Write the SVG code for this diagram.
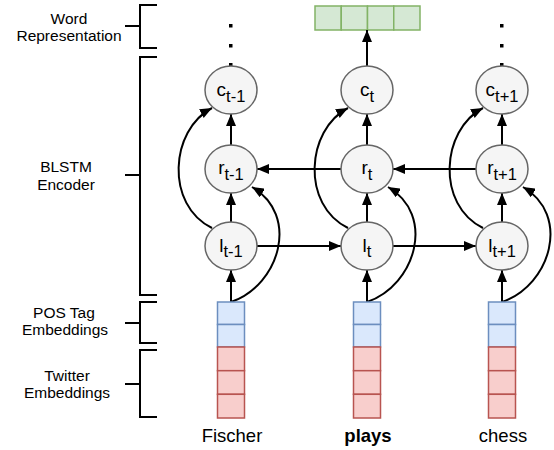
<svg xmlns="http://www.w3.org/2000/svg" width="554" height="450" viewBox="0 0 554 450">
<defs>
<style>
.lbl{font-family:"Liberation Sans",Arial,sans-serif;font-size:15.5px;fill:#000;text-anchor:middle}
.word{font-family:"Liberation Sans",Arial,sans-serif;font-size:18.5px;fill:#000;text-anchor:middle}
.node ellipse{fill:#f5f5f5;stroke:#666;stroke-width:1.5}
.nt{font-family:"Liberation Sans",Arial,sans-serif;font-size:19px;fill:#000;text-anchor:middle}
.sub{font-size:16.5px}
.br{fill:none;stroke:#000;stroke-width:2}
.conn path{fill:none;stroke:#000;stroke-width:2}
.blue{fill:#dae8fc;stroke:#6c8ebf;stroke-width:1.5}
.red{fill:#f8cecc;stroke:#b85450;stroke-width:1.5}
.green{fill:#d5e8d4;stroke:#82b366;stroke-width:1.5}
</style>
<marker id="ah" viewBox="0 0 12 10" refX="12" refY="5" markerWidth="12" markerHeight="10" markerUnits="userSpaceOnUse" orient="auto">
<path d="M0,0 L12,5 L0,10 z" fill="#000"/>
</marker>
</defs>
<rect width="554" height="450" fill="#fff"/>

<g id="word-rep-label">
<path class="br" d="M157 5 H140 V48 H157 M125 26 H140"/>
<text class="lbl" x="69" y="24">Word</text>
<text class="lbl" x="69" y="41">Representation</text>
</g>
<g id="blstm-label">
<path class="br" d="M157 57 H140 V295 H157 M125 175 H140"/>
<text class="lbl" x="66" y="172">BLSTM</text>
<text class="lbl" x="66" y="190">Encoder</text>
</g>
<g id="pos-label">
<path class="br" d="M157 302 H140 V343 H157 M125 323 H140"/>
<text class="lbl" x="64" y="318">POS Tag</text>
<text class="lbl" x="65" y="335">Embeddings</text>
</g>
<g id="twitter-label">
<path class="br" d="M157 350 H140 V417 H157 M125 384 H140"/>
<text class="lbl" x="67" y="381">Twitter</text>
<text class="lbl" x="67" y="398">Embeddings</text>
</g>

<g id="dots-left" fill="#000">
<rect x="229" y="24" width="3.5" height="3.5"/>
<rect x="229" y="44" width="3.5" height="3.5"/>
<rect x="229" y="63" width="3.5" height="3.5"/>
</g>
<g id="dots-right" fill="#000">
<rect x="500" y="24" width="3.5" height="3.5"/>
<rect x="500" y="44" width="3.5" height="3.5"/>
<rect x="500" y="63" width="3.5" height="3.5"/>
</g>

<g id="word-vector">
<rect class="green" x="315" y="6" width="26.25" height="24"/>
<rect class="green" x="341.25" y="6" width="26.25" height="24"/>
<rect class="green" x="367.5" y="6" width="26.25" height="24"/>
<rect class="green" x="393.75" y="6" width="26.25" height="24"/>
</g>

<g id="connectors" class="conn">
<path d="M367 66 V30" marker-end="url(#ah)"/>
<path d="M231 302 V270" marker-end="url(#ah)"/>
<path d="M231 222 V193" marker-end="url(#ah)"/>
<path d="M231 145 V114" marker-end="url(#ah)"/>
<path d="M367 302 V270" marker-end="url(#ah)"/>
<path d="M367 222 V193" marker-end="url(#ah)"/>
<path d="M367 145 V114" marker-end="url(#ah)"/>
<path d="M502 302 V270" marker-end="url(#ah)"/>
<path d="M502 222 V193" marker-end="url(#ah)"/>
<path d="M502 145 V114" marker-end="url(#ah)"/>
<path d="M257 246 H341" marker-end="url(#ah)"/>
<path d="M393 246 H476" marker-end="url(#ah)"/>
<path d="M341 169 H257" marker-end="url(#ah)"/>
<path d="M476 169 H393" marker-end="url(#ah)"/>
<path d="M212 228 C165 205,170 130,212 108" marker-end="url(#ah)"/>
<path d="M348 228 C301 205,306 130,348 108" marker-end="url(#ah)"/>
<path d="M483 228 C436 205,441 130,483 108" marker-end="url(#ah)"/>
<path d="M231 302 C280 285,300 215,252 187" marker-end="url(#ah)"/>
<path d="M367 302 C416 285,436 215,388 187" marker-end="url(#ah)"/>
<path d="M502 302 C551 285,571 215,523 187" marker-end="url(#ah)"/>
</g>

<g id="c-tm1" class="node"><ellipse cx="231" cy="90" rx="26" ry="24"/><text class="nt" x="231" y="96">c<tspan class="sub" dy="6">t-1</tspan></text></g>
<g id="c-t" class="node"><ellipse cx="367" cy="90" rx="26" ry="24"/><text class="nt" x="367" y="96">c<tspan class="sub" dy="6">t</tspan></text></g>
<g id="c-tp1" class="node"><ellipse cx="502" cy="90" rx="26" ry="24"/><text class="nt" x="502" y="96">c<tspan class="sub" dy="6">t+1</tspan></text></g>

<g id="r-tm1" class="node"><ellipse cx="231" cy="169" rx="26" ry="24"/><text class="nt" x="231" y="174">r<tspan class="sub" dy="6">t-1</tspan></text></g>
<g id="r-t" class="node"><ellipse cx="367" cy="169" rx="26" ry="24"/><text class="nt" x="367" y="174">r<tspan class="sub" dy="6">t</tspan></text></g>
<g id="r-tp1" class="node"><ellipse cx="502" cy="169" rx="26" ry="24"/><text class="nt" x="502" y="174">r<tspan class="sub" dy="6">t+1</tspan></text></g>

<g id="l-tm1" class="node"><ellipse cx="231" cy="246" rx="26" ry="24"/><text class="nt" x="231" y="252">l<tspan class="sub" dy="5">t-1</tspan></text></g>
<g id="l-t" class="node"><ellipse cx="367" cy="246" rx="26" ry="24"/><text class="nt" x="367" y="252">l<tspan class="sub" dy="5">t</tspan></text></g>
<g id="l-tp1" class="node"><ellipse cx="502" cy="246" rx="26" ry="24"/><text class="nt" x="502" y="252">l<tspan class="sub" dy="5">t+1</tspan></text></g>

<g id="emb-fischer">
<rect class="blue" x="217.5" y="302" width="27" height="22.5"/>
<rect class="blue" x="217.5" y="324.5" width="27" height="22.5"/>
<rect class="red" x="217.5" y="347" width="27" height="23.7"/>
<rect class="red" x="217.5" y="370.7" width="27" height="23.6"/>
<rect class="red" x="217.5" y="394.3" width="27" height="23.7"/>
<text class="word" x="232" y="442">Fischer</text>
</g>
<g id="emb-plays">
<rect class="blue" x="353.5" y="302" width="27" height="22.5"/>
<rect class="blue" x="353.5" y="324.5" width="27" height="22.5"/>
<rect class="red" x="353.5" y="347" width="27" height="23.7"/>
<rect class="red" x="353.5" y="370.7" width="27" height="23.6"/>
<rect class="red" x="353.5" y="394.3" width="27" height="23.7"/>
<text class="word" x="368" y="442" font-weight="bold">plays</text>
</g>
<g id="emb-chess">
<rect class="blue" x="488.5" y="302" width="27" height="22.5"/>
<rect class="blue" x="488.5" y="324.5" width="27" height="22.5"/>
<rect class="red" x="488.5" y="347" width="27" height="23.7"/>
<rect class="red" x="488.5" y="370.7" width="27" height="23.6"/>
<rect class="red" x="488.5" y="394.3" width="27" height="23.7"/>
<text class="word" x="503" y="442">chess</text>
</g>
</svg>
